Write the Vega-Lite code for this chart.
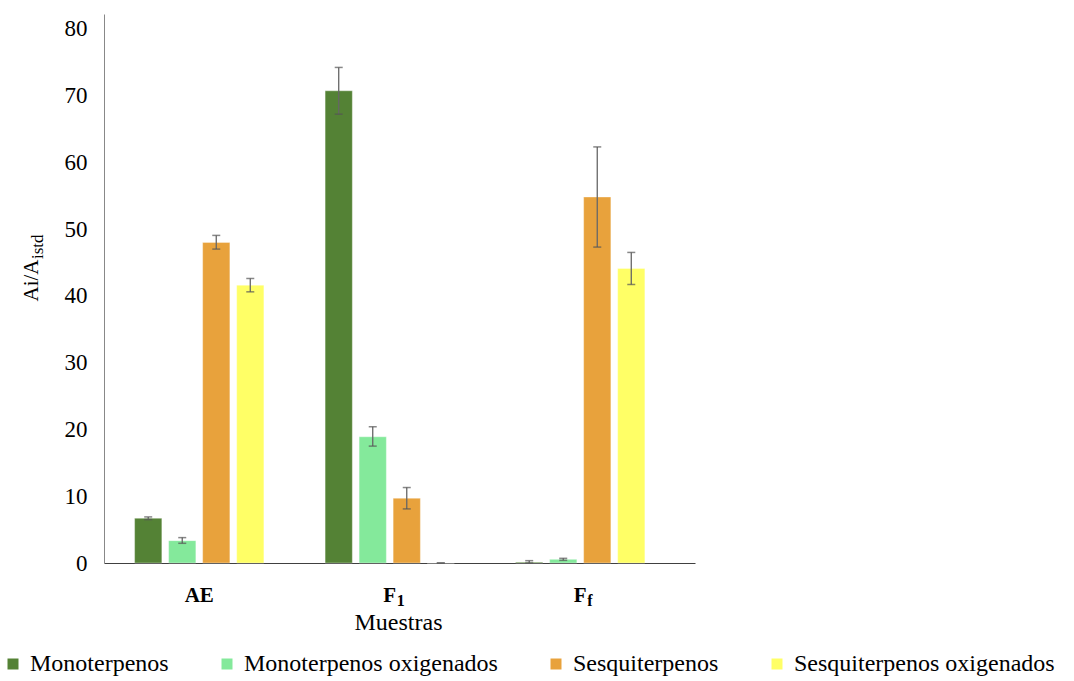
{
  "$schema": "https://vega.github.io/schema/vega-lite/v6.json",
  "autosize": {"type": "none"},
  "padding": {"left": 104, "top": 14, "right": 379, "bottom": 118},
  "width": 591,
  "height": 549,
  "config": {"view": {"stroke": null}, "font": "Liberation Serif", "background": "white"},
  "datasets": {
    "bars": [
      {"muestra": "AE", "grupo": "Monoterpenos", "valor": 6.7, "lo": 6.5, "hi": 6.9},
      {"muestra": "AE", "grupo": "Monoterpenos oxigenados", "valor": 3.35, "lo": 2.95, "hi": 3.8},
      {"muestra": "AE", "grupo": "Sesquiterpenos", "valor": 48.0, "lo": 47.0, "hi": 49.05},
      {"muestra": "AE", "grupo": "Sesquiterpenos oxigenados", "valor": 41.6, "lo": 40.6, "hi": 42.6},
      {"muestra": "F1", "grupo": "Monoterpenos", "valor": 70.7, "lo": 67.2, "hi": 74.2},
      {"muestra": "F1", "grupo": "Monoterpenos oxigenados", "valor": 18.9, "lo": 17.5, "hi": 20.4},
      {"muestra": "F1", "grupo": "Sesquiterpenos", "valor": 9.7, "lo": 8.1, "hi": 11.3},
      {"muestra": "F1", "grupo": "Sesquiterpenos oxigenados", "valor": 0, "lo": 0, "hi": 0},
      {"muestra": "Ff", "grupo": "Monoterpenos", "valor": 0.12, "lo": 0, "hi": 0.35},
      {"muestra": "Ff", "grupo": "Monoterpenos oxigenados", "valor": 0.55, "lo": 0.4, "hi": 0.7},
      {"muestra": "Ff", "grupo": "Sesquiterpenos", "valor": 54.8, "lo": 47.3, "hi": 62.3},
      {"muestra": "Ff", "grupo": "Sesquiterpenos oxigenados", "valor": 44.1, "lo": 41.7, "hi": 46.5}
    ],
    "subs": [
      {"muestra": "F1", "s": "1"},
      {"muestra": "Ff", "s": "f"}
    ],
    "ysub": [
      {"t": "istd"}
    ]
  },
  "layer": [
    {
      "data": {"name": "bars"},
      "mark": {"type": "bar", "stroke": "white", "strokeOpacity": 0.35, "strokeWidth": 1},
      "encoding": {
        "x": {
          "field": "muestra", "type": "nominal", "sort": ["AE", "F1", "Ff"],
          "scale": {"paddingInner": 0, "paddingOuter": 0.0512, "align": 0},
          "axis": {
            "labelExpr": "datum.value == 'AE' ? 'AE' : 'F'",
            "labelFontWeight": "bold", "labelFontSize": 21, "labelColor": "black",
            "labelBaseline": "alphabetic", "labelPadding": 38, "labelAngle": 0,
            "ticks": false, "tickSize": 0, "grid": false,
            "domainColor": "#404040", "domainWidth": 1,
            "title": "Muestras", "titleFontSize": 24, "titleFontWeight": "normal",
            "titleColor": "black", "titleBaseline": "alphabetic", "titleAlign": "center",
            "titleX": 294, "titleY": 66
          }
        },
        "xOffset": {
          "field": "grupo", "type": "nominal",
          "sort": ["Monoterpenos", "Monoterpenos oxigenados", "Sesquiterpenos", "Sesquiterpenos oxigenados"],
          "scale": {"paddingInner": 0.2, "paddingOuter": 0.9}
        },
        "y": {
          "field": "valor", "type": "quantitative",
          "scale": {"domain": [0, 82.2], "nice": false, "zero": true},
          "axis": {
            "values": [0, 10, 20, 30, 40, 50, 60, 70, 80],
            "labelFontSize": 23, "labelColor": "black", "labelPadding": 17,
            "ticks": false, "tickSize": 0, "grid": false,
            "domainColor": "#888888", "domainWidth": 1,
            "title": "Ai/A", "titleFontSize": 21, "titleFontWeight": "normal",
            "titleColor": "black", "titleAngle": 270, "titleAlign": "left",
            "titleBaseline": "alphabetic", "titleX": -67, "titleY": 287
          }
        },
        "color": {
          "field": "grupo", "type": "nominal",
          "sort": ["Monoterpenos", "Monoterpenos oxigenados", "Sesquiterpenos", "Sesquiterpenos oxigenados"],
          "scale": {
            "domain": ["Monoterpenos", "Monoterpenos oxigenados", "Sesquiterpenos", "Sesquiterpenos oxigenados"],
            "range": ["#548235", "#84E99B", "#E8A23C", "#FFFF66"]
          },
          "legend": {
            "orient": "none", "legendX": -103, "legendY": 638,
            "direction": "horizontal", "columns": 4, "columnPadding": 46,
            "symbolType": "square", "symbolSize": 121, "symbolStrokeWidth": 0,
            "labelOffset": 5, "labelFontSize": 24, "labelFont": "Liberation Serif",
            "labelColor": "black", "labelLimit": 400, "title": null, "padding": 0
          }
        }
      }
    },
    {
      "data": {"name": "bars"},
      "mark": {"type": "rule", "color": "#666666", "strokeWidth": 1.3},
      "encoding": {
        "x": {"field": "muestra", "type": "nominal", "sort": ["AE", "F1", "Ff"]},
        "xOffset": {"field": "grupo", "type": "nominal", "sort": ["Monoterpenos", "Monoterpenos oxigenados", "Sesquiterpenos", "Sesquiterpenos oxigenados"]},
        "y": {"field": "lo", "type": "quantitative"},
        "y2": {"field": "hi"}
      }
    },
    {
      "data": {"name": "bars"},
      "mark": {"type": "tick", "color": "#555555", "size": 8, "thickness": 1.5},
      "encoding": {
        "x": {"field": "muestra", "type": "nominal", "sort": ["AE", "F1", "Ff"]},
        "xOffset": {"field": "grupo", "type": "nominal", "sort": ["Monoterpenos", "Monoterpenos oxigenados", "Sesquiterpenos", "Sesquiterpenos oxigenados"]},
        "y": {"field": "lo", "type": "quantitative"}
      }
    },
    {
      "data": {"name": "bars"},
      "mark": {"type": "tick", "color": "#555555", "size": 8, "thickness": 1.5},
      "encoding": {
        "x": {"field": "muestra", "type": "nominal", "sort": ["AE", "F1", "Ff"]},
        "xOffset": {"field": "grupo", "type": "nominal", "sort": ["Monoterpenos", "Monoterpenos oxigenados", "Sesquiterpenos", "Sesquiterpenos oxigenados"]},
        "y": {"field": "hi", "type": "quantitative"}
      }
    },
    {
      "data": {"name": "subs"},
      "mark": {"type": "text", "align": "left", "baseline": "alphabetic", "dx": 7, "dy": 43, "fontWeight": "bold", "fontSize": 16, "font": "Liberation Serif", "color": "black"},
      "encoding": {
        "x": {"field": "muestra", "type": "nominal", "sort": ["AE", "F1", "Ff"]},
        "y": {"datum": 0, "type": "quantitative"},
        "text": {"field": "s"}
      }
    },
    {
      "data": {"name": "ysub"},
      "mark": {"type": "text", "align": "left", "baseline": "alphabetic", "angle": 270, "dx": 36.8, "dy": -156.25, "fontSize": 17, "font": "Liberation Serif", "color": "black"},
      "encoding": {
        "x": {"datum": "AE", "type": "nominal"},
        "y": {"datum": 40, "type": "quantitative"},
        "text": {"field": "t"}
      }
    }
  ]
}
